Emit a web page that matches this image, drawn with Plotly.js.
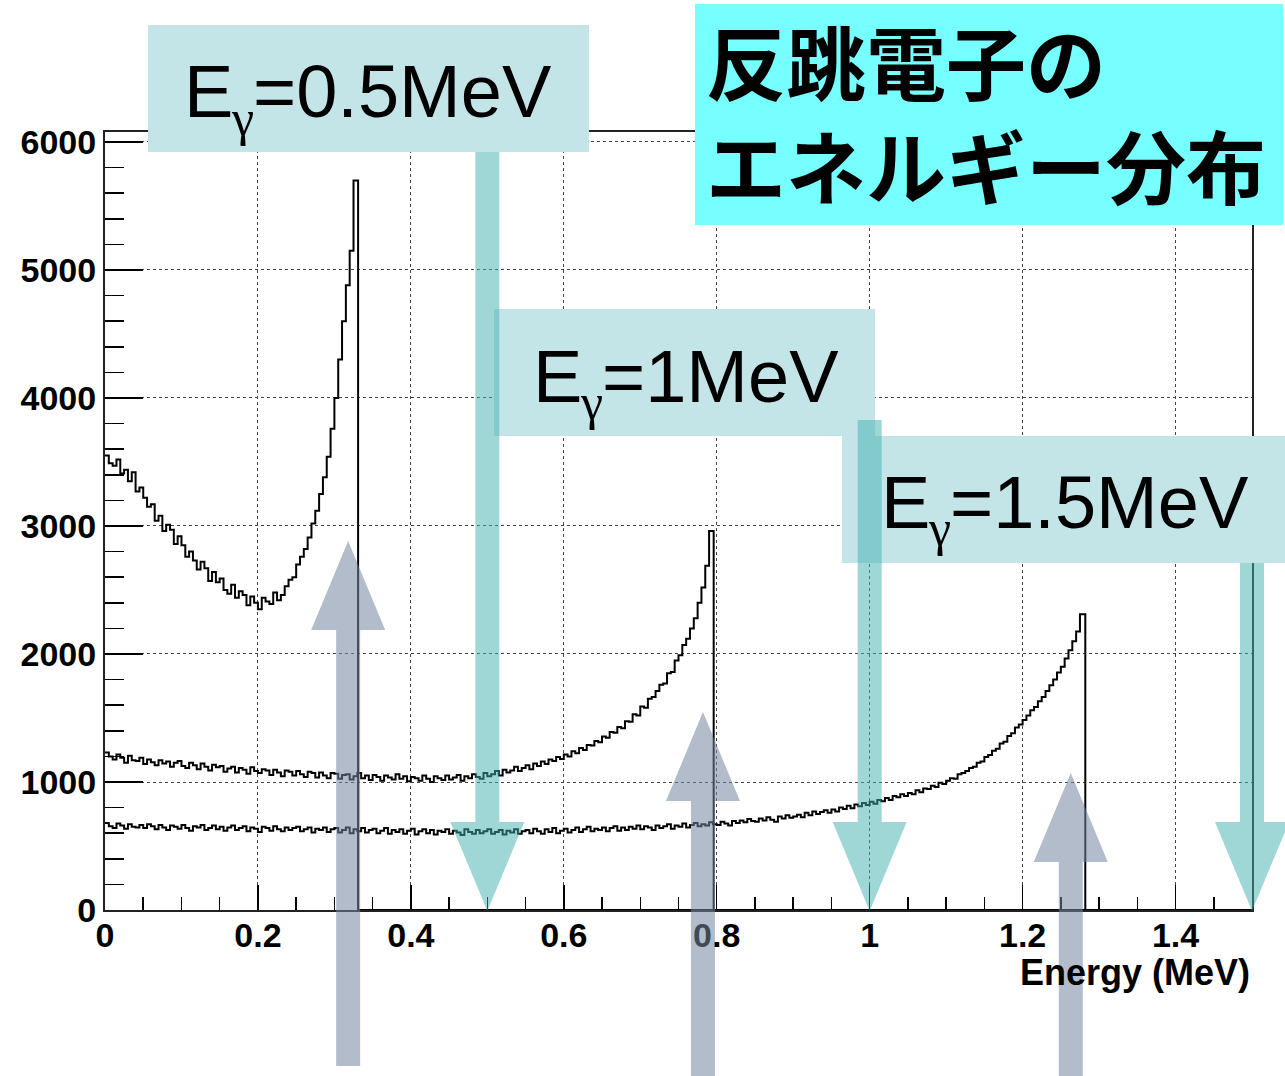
<!DOCTYPE html>
<html><head><meta charset="utf-8">
<script src="https://cdn.plot.ly/plotly-3.0.1.min.js"></script>
<style>html,body{margin:0;padding:0;background:#fff}#chart{width:1285px;height:1076px}</style>
</head><body><div id="chart"></div>
<script>
// ---------- data ----------
const binWidth = 0.005;                       // MeV per bin
const gammaEnergies = [0.5, 1.0, 1.5];        // MeV, incident photon
const comptonEdges = [0.331, 0.796, 1.282];   // MeV, where each histogram ends
const gammaValues = ['0.5', '1', '1.5'];      // label text: "Eγ=" + value + "MeV"
const edgeArrowX = [0.318, 0.782, 1.263];     // MeV, grey arrows pointing at the edges
const titleLines = ['反跳電子の', 'エネルギー分布'];
const xAxisTitle = 'Energy (MeV)';
const xTickVals = [0, 0.2, 0.4, 0.6, 0.8, 1.0, 1.2, 1.4];
const yTickVals = [0, 1000, 2000, 3000, 4000, 5000, 6000];

// counts per bin, Eγ = 0.5 MeV (bins start at 0, 0.005, ...)
const counts05 = [
  3550,3490,3470,3520,3410,3440,3350,3420,3270,3300,
  3220,3150,3170,3040,3080,2960,3010,2970,2860,2920,
  2850,2760,2800,2730,2660,2720,2670,2570,2640,2560,
  2590,2500,2470,2540,2440,2490,2460,2380,2450,2400,
  2350,2440,2410,2390,2480,2420,2460,2530,2580,2600,
  2700,2760,2820,2910,3020,3120,3250,3380,3540,3760,
  4000,4300,4600,4880,5150,5700
];
// counts per bin, Eγ = 1 MeV
const counts10 = [
  1230,1200,1175,1215,1190,1150,1205,1170,1165,1190,
  1140,1175,1155,1130,1170,1145,1160,1120,1150,1165,
  1125,1110,1150,1130,1100,1145,1120,1090,1135,1115,
  1125,1080,1105,1120,1075,1110,1095,1065,1115,1085,
  1070,1100,1090,1055,1095,1075,1045,1090,1080,1050,
  1085,1060,1040,1080,1070,1035,1075,1050,1030,1070,
  1065,1025,1055,1060,1020,1045,1070,1030,1050,1015,
  1055,1040,1010,1050,1035,1020,1060,1025,1045,1005,
  1040,1030,1010,1050,1025,1000,1045,1030,1015,1050,
  1020,1035,1055,1010,1045,1030,1060,1040,1025,1070,
  1045,1060,1085,1050,1095,1075,1090,1120,1085,1110,
  1130,1100,1145,1125,1160,1140,1175,1165,1195,1180,
  1215,1200,1240,1225,1265,1250,1290,1285,1320,1310,
  1355,1345,1390,1385,1430,1420,1475,1470,1530,1520,
  1590,1580,1650,1665,1710,1760,1770,1850,1860,1950,
  1990,2070,2120,2200,2280,2400,2520,2690,2960
];
// counts per bin, Eγ = 1.5 MeV
const counts15 = [
  680,655,640,675,660,635,670,650,645,665,
  640,670,655,630,665,645,625,660,650,635,
  665,640,620,655,645,665,625,640,660,630,
  650,620,645,660,625,640,655,615,645,635,
  610,650,640,620,655,630,615,645,625,640,
  650,615,630,645,605,635,625,645,610,630,
  640,605,625,645,600,630,615,640,605,625,
  635,600,620,640,595,625,610,630,595,620,
  635,590,615,630,600,625,590,620,610,630,
  595,620,605,585,630,610,595,625,600,615,
  630,595,610,625,590,620,605,630,595,615,
  625,600,635,615,595,630,610,640,600,620,
  635,605,625,645,610,630,650,615,635,625,
  645,615,640,655,620,645,625,650,635,660,
  630,655,645,625,660,640,655,670,635,660,
  650,675,645,665,680,655,670,660,685,670,
  665,690,675,660,695,680,700,685,710,695,
  690,715,700,725,705,690,730,715,740,720,
  730,745,725,760,740,770,750,765,780,760,
  785,770,800,790,815,795,825,810,835,820,
  845,830,860,850,875,860,890,880,905,890,
  915,905,935,920,950,945,970,960,995,985,
  1010,1030,1025,1060,1070,1085,1110,1120,1150,1160,
  1195,1210,1245,1260,1300,1315,1360,1380,1425,1450,
  1485,1520,1560,1585,1630,1665,1710,1755,1800,1855,
  1900,1965,2030,2100,2175,2310
];

// ---------- geometry ----------
const W = 1285, H = 1076;
const M = {l: 105, r: 33, t: 132, b: 166};
const PW = W - M.l - M.r, PH = H - M.t - M.b;
const xRange = [0, 1.5], yRange = [0, 6078];
const dataPxX = v => M.l + (v - xRange[0]) / (xRange[1] - xRange[0]) * PW;
const dataPxY = v => M.t + PH - (v - yRange[0]) / (yRange[1] - yRange[0]) * PH;
const pX = px => (px - M.l) / PW;
const pY = py => (M.t + PH - py) / PH;

function histTrace(counts, edge) {
  const xs = counts.map((_, i) => i * binWidth);
  const ys = counts.slice();
  xs.push(edge); ys.push(0);
  xs.push(xRange[1]); ys.push(0);
  return {x: xs, y: ys, type: 'scatter', mode: 'lines',
          line: {shape: 'hv', color: '#000', width: 2},
          hoverinfo: 'skip', showlegend: false};
}
const traces = [
  histTrace(counts05, comptonEdges[0]),
  histTrace(counts10, comptonEdges[1]),
  histTrace(counts15, comptonEdges[2])
];

function rectPx(x0, y0, x1, y1, fill) {
  return {type: 'rect', xref: 'paper', yref: 'paper', layer: 'above',
          x0: pX(x0), x1: pX(x1), y0: pY(y1), y1: pY(y0),
          fillcolor: fill, line: {width: 0}};
}
function polyPx(pts, fill) {
  const d = pts.map((p, i) => (i ? 'L' : 'M') + pX(p[0]).toFixed(5) + ',' + pY(p[1]).toFixed(5)).join(' ') + ' Z';
  return {type: 'path', xref: 'paper', yref: 'paper', layer: 'above', path: d,
          fillcolor: fill, line: {width: 0}};
}
const SHAFT = 12, HEADW = 37, HEADL = 89;
function downArrow(tx, top, tipY, fill) {
  return polyPx([[tx - SHAFT, top], [tx + SHAFT, top], [tx + SHAFT, tipY - HEADL], [tx + HEADW, tipY - HEADL],
                 [tx, tipY], [tx - HEADW, tipY - HEADL], [tx - SHAFT, tipY - HEADL]], fill);
}
function upArrow(tx, tipY, bottom, fill) {
  return polyPx([[tx - SHAFT, bottom], [tx - SHAFT, tipY + HEADL], [tx - HEADW, tipY + HEADL], [tx, tipY],
                 [tx + HEADW, tipY + HEADL], [tx + SHAFT, tipY + HEADL], [tx + SHAFT, bottom]], fill);
}

const labelBoxColor = '#c4e5e8';
const tealArrow = 'rgba(64,176,176,0.5)';
const greyArrow = 'rgba(115,133,159,0.55)';
const labelBoxes = [[148, 25, 589, 152], [494, 309, 875, 436], [842, 436, 1292, 563]];
const tealTops = [152, 420, 563];
const greyTips = [541, 712, 773];
const greyBottoms = [1066, 1080, 1080];
const labelInkLeft = [188, 537, 885];      // px where the "E" starts
const labelBaseline = [118, 402, 528];     // px baseline of the label text

const shapes = [];
shapes.push(rectPx(695, 4, 1283, 225, '#77ffff'));
labelBoxes.forEach(b => shapes.push(rectPx(b[0], b[1], b[2], b[3], labelBoxColor)));
gammaEnergies.forEach((e, i) => shapes.push(downArrow(dataPxX(e), tealTops[i], dataPxY(0) + 1, tealArrow)));
edgeArrowX.forEach((e, i) => shapes.push(upArrow(dataPxX(e), greyTips[i], greyBottoms[i], greyArrow)));

const labelFont = {family: 'Liberation Sans, Arial, sans-serif', size: 74, color: '#000'};
const annotations = [];
gammaValues.forEach((v, i) => {
  const x0 = labelInkLeft[i], bl = labelBaseline[i];
  annotations.push({xref: 'paper', yref: 'paper', x: pX(x0 - 6), y: pY(bl - 26),
    xanchor: 'left', yanchor: 'middle', showarrow: false, text: 'E', font: labelFont});
  annotations.push({xref: 'paper', yref: 'paper', x: pX(x0 + 54), y: pY(bl + 0),
    xanchor: 'center', yanchor: 'middle', showarrow: false, text: 'γ',
    font: {family: 'Liberation Serif, Times New Roman, serif', size: 50, color: '#000'}});
  annotations.push({xref: 'paper', yref: 'paper', x: pX(x0 + 63), y: pY(bl - 26),
    xanchor: 'left', yanchor: 'middle', showarrow: false, text: '=' + v + 'MeV', font: labelFont});
});
annotations.push({
  xref: 'paper', yref: 'paper', x: pX(704), y: pY(111),
  xanchor: 'left', yanchor: 'middle', align: 'left', showarrow: false, text: titleLines.join('<br>'),
  font: {family: 'Noto Sans CJK JP', size: 80, color: '#000', weight: 'bold'}
});
annotations.push({
  xref: 'paper', yref: 'paper', x: 1, y: pY(972), xanchor: 'right', yanchor: 'middle',
  showarrow: false, text: '<b>' + xAxisTitle + '</b>',
  font: {family: 'Liberation Sans, Arial, sans-serif', size: 36, color: '#000'}
});

const tickFont = {family: 'Liberation Sans, Arial, sans-serif', size: 34, color: '#000', weight: 'bold'};
const layout = {
  width: W, height: H, margin: M,
  paper_bgcolor: '#fff', plot_bgcolor: '#fff', showlegend: false,
  xaxis: {
    range: xRange, tickvals: xTickVals, ticktext: xTickVals.map(v => String(v)),
    ticks: 'inside', ticklen: 25, tickwidth: 1.5, tickcolor: '#000', ticklabelstandoff: -6,
    minor: {dtick: 0.05, tick0: 0, ticks: 'inside', ticklen: 13, tickwidth: 1.5, tickcolor: '#000', showgrid: false},
    showline: true, mirror: true, linecolor: '#222', linewidth: 2,
    showgrid: true, gridcolor: '#444', gridwidth: 1, griddash: '3px,3px',
    zeroline: false, tickfont: tickFont, fixedrange: true
  },
  yaxis: {
    range: yRange, tickvals: yTickVals, ticktext: yTickVals.map(v => String(v)),
    ticks: 'inside', ticklen: 38, tickwidth: 1.5, tickcolor: '#000',
    minor: {dtick: 200, tick0: 0, ticks: 'inside', ticklen: 19, tickwidth: 1.5, tickcolor: '#000', showgrid: false},
    showline: true, mirror: true, linecolor: '#222', linewidth: 2,
    showgrid: true, gridcolor: '#444', gridwidth: 1, griddash: '3px,3px',
    zeroline: false, tickfont: tickFont, fixedrange: true
  },
  shapes: shapes,
  annotations: annotations
};
Plotly.newPlot('chart', traces, layout, {displayModeBar: false, staticPlot: true});
</script>
</body></html>
